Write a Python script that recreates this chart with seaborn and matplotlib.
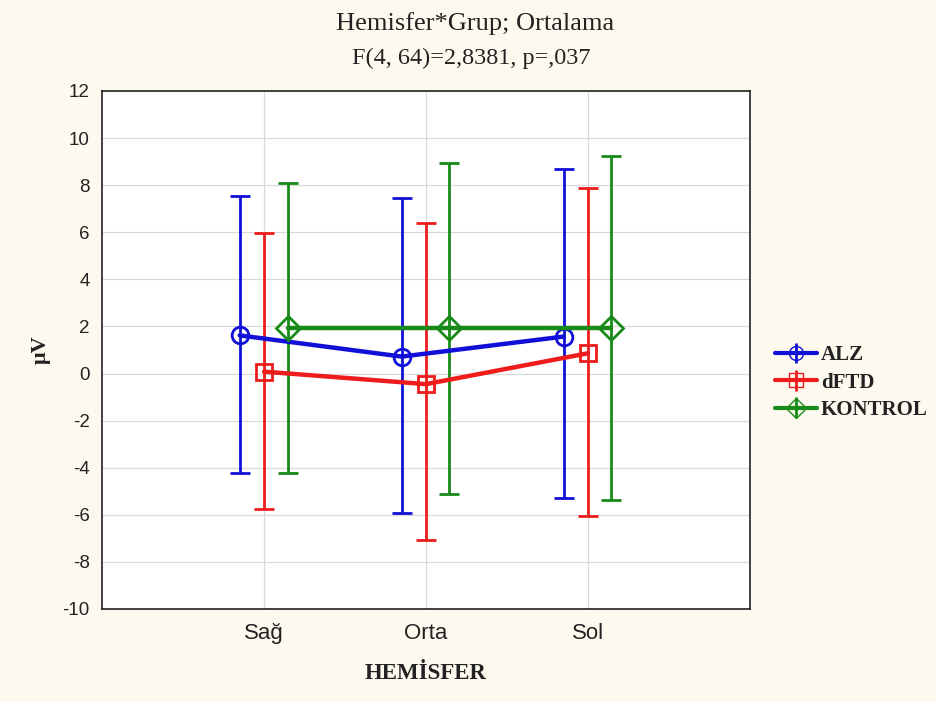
import numpy as np
import pandas as pd
import matplotlib
matplotlib.use("Agg")
import matplotlib.pyplot as plt
import seaborn as sns

# Group means and 95% confidence limits per hemisphere
hemispheres = ["Sağ", "Orta", "Sol"]
groups = ["ALZ", "dFTD", "KONTROL"]

alz_mean = [1.62, 0.72, 1.57]
alz_low = [-4.22, -5.93, -5.30]
alz_high = [7.52, 7.45, 8.68]

dftd_mean = [0.08, -0.45, 0.86]
dftd_low = [-5.76, -7.06, -6.07]
dftd_high = [5.98, 6.38, 7.90]

kontrol_mean = [1.92, 1.92, 1.92]
kontrol_low = [-4.22, -5.10, -5.36]
kontrol_high = [8.10, 8.93, 9.24]

y_ticks = list(range(-10, 13, 2))

colors = {"ALZ": "#1010d8", "dFTD": "#ee1c1c", "KONTROL": "#178a17"}
markers = {"ALZ": "o", "dFTD": "s", "KONTROL": "D"}
dodge = {"ALZ": -0.15, "dFTD": 0.0, "KONTROL": 0.145}

rows = []
for g, m, lo, hi in [("ALZ", alz_mean, alz_low, alz_high),
                     ("dFTD", dftd_mean, dftd_low, dftd_high),
                     ("KONTROL", kontrol_mean, kontrol_low, kontrol_high)]:
    for i, h in enumerate(hemispheres):
        rows.append({"Grup": g, "Hemisfer": h, "pos": i + 1 + dodge[g],
                     "mean": m[i], "low": lo[i], "high": hi[i]})
df = pd.DataFrame(rows)

sns.set_theme(style="whitegrid")
bg = "#fdf9ef"
fig = plt.figure(figsize=(9.37, 7.02), dpi=100, facecolor=bg)
ax = fig.add_axes([0.1089, 0.1325, 0.6915, 0.7379])
ax.set_facecolor("white")

for g in groups:
    sub = df[df["Grup"] == g]
    c = colors[g]
    ax.errorbar(sub["pos"], sub["mean"],
                yerr=[sub["mean"] - sub["low"], sub["high"] - sub["mean"]],
                fmt="none", ecolor=c, elinewidth=2.0, capsize=7.5, capthick=2.0,
                zorder=3)

sns.lineplot(data=df, x="pos", y="mean", hue="Grup", hue_order=groups,
             palette=colors, style="Grup", markers=markers, dashes=False,
             linewidth=3.2, markersize=12, markerfacecolor="none",
             markeredgewidth=2, ax=ax, legend=False, sort=True, zorder=4)
for line, g in zip(ax.lines[-3:], groups):
    line.set_markeredgecolor(colors[g])
    line.set_markerfacecolor("none")

ax.set_xlim(0, 4)
ax.set_ylim(-10, 12)
ax.set_xticks([1, 2, 3])
ax.set_xticklabels(hemispheres)
ax.set_yticks(y_ticks)
ax.set_yticklabels([str(t) for t in y_ticks])
ax.grid(True, color="#d9d9d9", linewidth=0.9)
for s in ax.spines.values():
    s.set_visible(True)
    s.set_color("#222222")
    s.set_linewidth(1.2)
ax.tick_params(axis="both", direction="out", length=5, width=1,
               color="#222222", labelcolor="#222222")
ax.tick_params(axis="y", labelsize=13.5, pad=4)
ax.tick_params(axis="x", labelsize=16, pad=5)
for lab in ax.get_xticklabels() + ax.get_yticklabels():
    lab.set_family("Liberation Sans")

ax.set_xlabel("HEMİSFER", family="Liberation Serif", fontweight="bold",
              fontsize=16.5, color="#222222", labelpad=14)
ax.set_ylabel("μV", family="Liberation Serif", fontweight="bold",
              fontsize=16, color="#222222", labelpad=8)

fig.text(0.507, 0.967, "Hemisfer*Grup; Ortalama", ha="center", va="center",
         family="Liberation Serif", fontsize=19, color="#222222")
fig.text(0.503, 0.917, "F(4, 64)=2,8381, p=,037", ha="center", va="center",
         family="Liberation Serif", fontsize=17.5, color="#222222")

handles = []
for g in groups:
    h = ax.errorbar([], [], yerr=[], color=colors[g], marker=markers[g],
                    markerfacecolor="none", markeredgecolor=colors[g],
                    markersize=10, linewidth=3, elinewidth=2, capsize=0)
    handles.append(h)
leg = fig.legend(handles, groups, loc="center left",
                 bbox_to_anchor=(0.807, 0.455), frameon=False,
                 prop={"family": "Liberation Serif", "weight": "bold", "size": 15},
                 handlelength=2.0, handletextpad=0.2, labelspacing=0.35)
for t in leg.get_texts():
    t.set_color("#222222")

fig.savefig("out.png", dpi=100, facecolor=bg)
